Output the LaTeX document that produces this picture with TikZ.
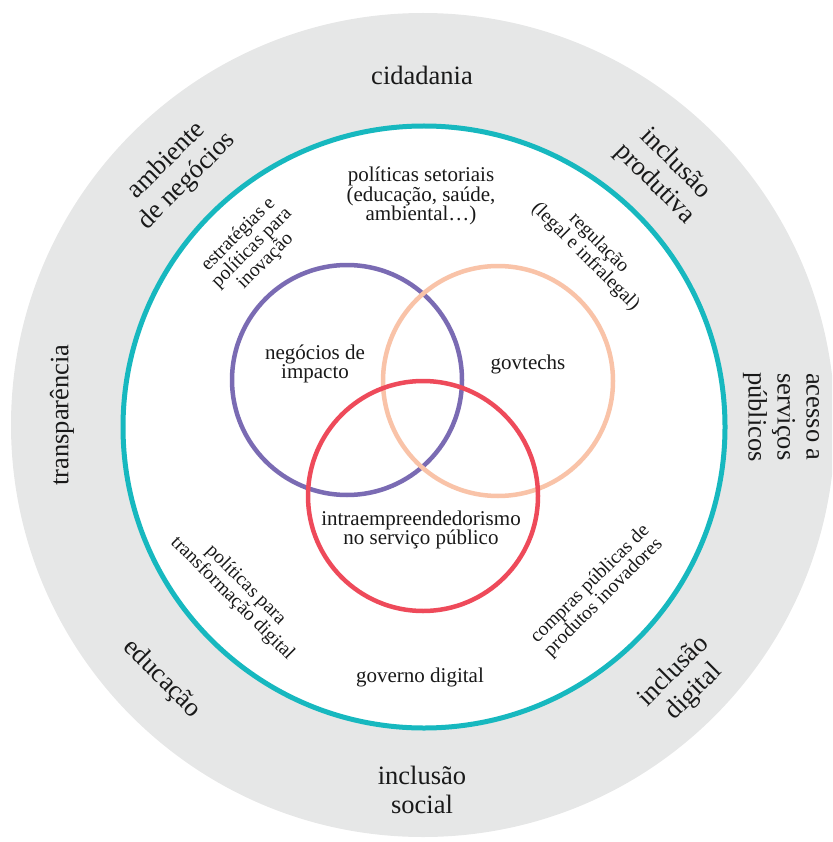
\documentclass[tikz,border=0pt]{standalone}
\usepackage{fontspec}
\setmainfont{Liberation Serif}
\definecolor{ringgrey}{HTML}{E6E7E7}
\definecolor{ringteal}{HTML}{17B8BF}
\definecolor{vpurple}{HTML}{7A6BB3}
\definecolor{vpeach}{HTML}{F9C3A8}
\definecolor{vred}{HTML}{EE4A5A}
\tikzset{
  venn/.style={line width=4.5pt},
  outerlbl/.style={font=\fontsize{26.5}{29}\selectfont, align=center, inner sep=0pt, text=black!90},
  innerlbl/.style={font=\fontsize{21}{19.5}\selectfont, align=center, inner sep=0pt, text=black!90},
  smalllbl/.style={font=\fontsize{19.5}{19}\selectfont, align=center, inner sep=0pt, text=black!90}
}
\begin{document}
\begin{tikzpicture}[x=1pt,y=-1pt]
\useasboundingbox (0,0) rectangle (832,842);
\begin{scope}
  \clip (0,0) rectangle (832,842);
  \fill[ringgrey] (423,425) circle[radius=412pt];
\end{scope}
\draw[ringteal, line width=5pt, fill=white] (424,427) circle[radius=301pt];
\draw[vpurple, venn] (347,380) circle[radius=115pt];
\draw[vpeach, venn] (498,381) circle[radius=115pt];
\draw[vred, venn] (423,496) circle[radius=115pt];

% outer ring labels
\node[outerlbl] (cid) at (422,75) {cidadania};
\node[outerlbl] (incsoc) at (422,790) {inclusão\\social};
\node[outerlbl, rotate=90] (transp) at (62,415) {transparência};
\node[outerlbl, rotate=-90] (acesso) at (781,417) {acesso a\\serviços\\públicos};
\node[outerlbl, rotate=45] (amb) at (177,171) {ambiente\\de negócios};
\node[outerlbl, rotate=-45] (incprod) at (665,174) {inclusão\\produtiva};
\node[outerlbl, rotate=-45] (educ) at (162,679) {educação};
\node[outerlbl, rotate=45] (incdig) at (684,682) {inclusão\\digital};

% inner labels
\node[innerlbl] (polset) at (421,196) {políticas setoriais\\(educação, saúde,\\ambiental\ldots)};
\node[smalllbl, rotate=45] (estrat) at (252,248) {estratégias e\\políticas para\\inovação};
\node[smalllbl, rotate=-45] (regul) at (592,250) {regulação\\(legal e infralegal)};
\node[smalllbl, rotate=-45] (poltrans) at (239,592) {políticas para\\transformação digital};
\node[smalllbl, rotate=45] (compras) at (597,591) {compras públicas de\\produtos inovadores};
\node[innerlbl] (gov) at (420,677) {governo digital};

% venn labels
\node[innerlbl] (neg) at (315,364) {negócios de\\impacto};
\node[innerlbl] (govt) at (528,364) {govtechs};
\node[innerlbl] (intra) at (421,530) {intraempreendedorismo\\no serviço público};
\end{tikzpicture}
\end{document}
